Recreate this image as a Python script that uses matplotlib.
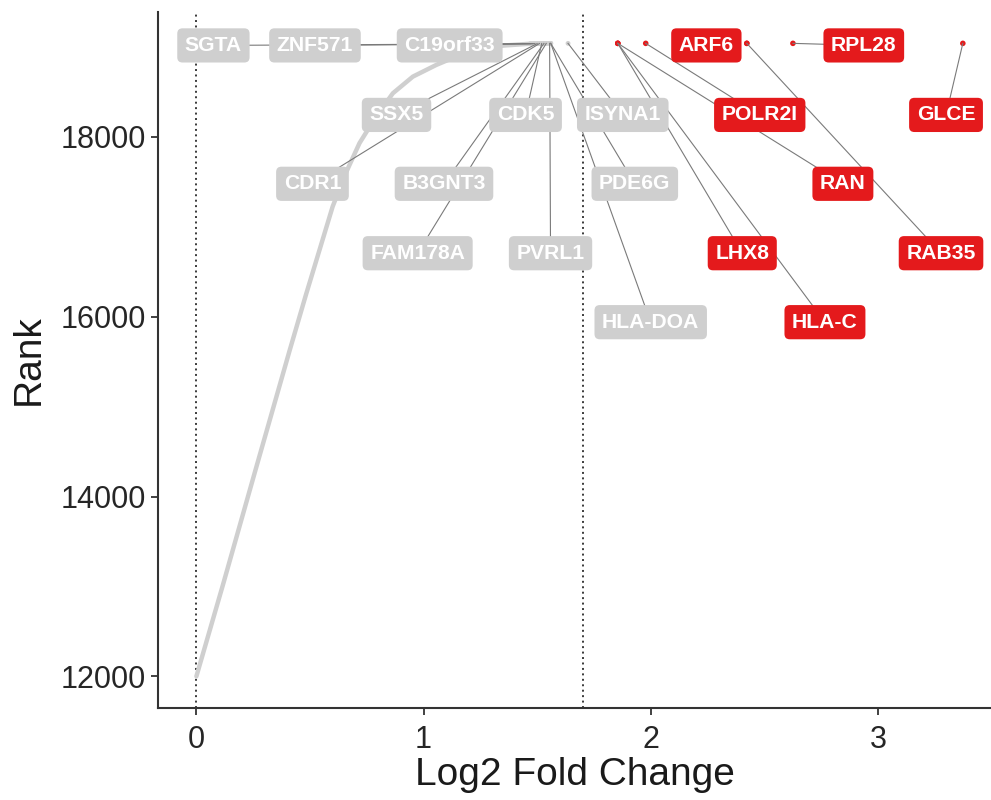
import matplotlib
matplotlib.use("Agg")
import matplotlib.pyplot as plt

# grey band: log2FC vs rank for the bulk of genes
curve_lfc = [0.0, 0.116, 0.263, 0.41, 0.483, 0.6, 0.66, 0.718, 0.791, 0.865, 0.953,
             1.056, 1.15, 1.25, 1.35, 1.47, 1.56]
curve_rank = [12000, 13010, 14320, 15620, 16250, 17226, 17610, 17930, 18226, 18485, 18670,
              18800, 18900, 18970, 19015, 19036, 19040]

# labelled genes below the cutoff (grey)
grey_genes = ["SGTA", "ZNF571", "C19orf33", "SSX5", "CDR1", "CDK5", "B3GNT3",
              "FAM178A", "PVRL1", "ISYNA1", "PDE6G", "HLA-DOA"]
grey_lfc = [1.47, 1.48, 1.49, 1.50, 1.51, 1.52, 1.53, 1.54, 1.555, 1.636, 1.56, 1.56]
grey_rank = [19036, 19036, 19037, 19037, 19038, 19038, 19039, 19039, 19040, 19040, 19040, 19040]

# labelled genes above the cutoff (red)
red_genes = ["ARF6", "RPL28", "POLR2I", "GLCE", "RAN", "LHX8", "RAB35", "HLA-C"]
red_lfc = [2.423, 2.626, 1.978, 3.374, 1.855, 1.855, 2.423, 1.855]
red_rank = [19040, 19040, 19040, 19040, 19040, 19040, 19040, 19040]

cutoffs = [0, 1.7]

# where the repelled labels ended up (data coords)
label_pos = {
    "SGTA": (0.075, 19017), "ZNF571": (0.522, 19017), "C19orf33": (1.115, 19017),
    "SSX5": (0.881, 18244), "CDK5": (1.449, 18244), "ISYNA1": (1.877, 18244),
    "CDR1": (0.511, 17478), "B3GNT3": (1.090, 17478), "PDE6G": (1.930, 17478),
    "FAM178A": (0.974, 16706), "PVRL1": (1.559, 16706), "HLA-DOA": (2.0, 15939),
    "ARF6": (2.245, 19017), "RPL28": (2.938, 19017), "POLR2I": (2.480, 18244),
    "GLCE": (3.300, 18244), "RAN": (2.846, 17478), "LHX8": (2.403, 16706),
    "RAB35": (3.278, 16706), "HLA-C": (2.767, 15939),
}

GREY = "#cfcfcf"
RED = "#e41a1c"
plt.rcParams["font.family"] = ["Liberation Sans", "DejaVu Sans"]

fig = plt.figure(figsize=(9.91, 8.0), dpi=100)
ax = fig.add_axes([158 / 991, 92 / 800, 833 / 991, 696.3 / 800])

for c in cutoffs:
    ax.axvline(c, color="#3a3a3a", lw=1.4, ls=(0, (1, 1.8)), zorder=1)

ax.plot(curve_lfc, curve_rank, color=GREY, lw=3.2, solid_capstyle="round",
        solid_joinstyle="round", zorder=2)
ax.scatter(grey_lfc, grey_rank, s=12, color=GREY, edgecolors="none", zorder=3)
ax.scatter(red_lfc, red_rank, s=16, color=RED, edgecolors="none", zorder=3)


def add_labels(genes, xs, ys, fill):
    for g, x, y in zip(genes, xs, ys):
        lx, ly = label_pos[g]
        # segment from the point to the label; the label box covers its end
        if g != "ARF6":
            ax.plot([x, lx], [y, ly], color="#7a7a7a", lw=0.8, zorder=4)
        ax.text(lx, ly, g, ha="center", va="center", color="white",
                fontsize=15.2, fontweight="bold", zorder=6,
                bbox=dict(boxstyle="round,pad=0.36,rounding_size=0.25",
                          fc=fill, ec="none"))


add_labels(grey_genes, grey_lfc, grey_rank, GREY)
add_labels(red_genes, red_lfc, red_rank, RED)

ax.set_xlim(-0.169, 3.498)
ax.set_ylim(11648, 19392)
ax.set_xticks([0, 1, 2, 3])
ax.set_yticks([12000, 14000, 16000, 18000])
ax.spines["top"].set_visible(False)
ax.spines["right"].set_visible(False)
for s in ("left", "bottom"):
    ax.spines[s].set_linewidth(1.5)
    ax.spines[s].set_color("#333333")
ax.tick_params(labelsize=22, length=5, width=1.3, color="#333333", labelcolor="#262626")
ax.tick_params(axis="x", pad=7)
ax.set_xlabel("Log2 Fold Change", fontsize=28, labelpad=2, color="#1a1a1a")
ax.set_ylabel("Rank", fontsize=28, labelpad=10, color="#1a1a1a")

fig.savefig("out.png", dpi=100)
